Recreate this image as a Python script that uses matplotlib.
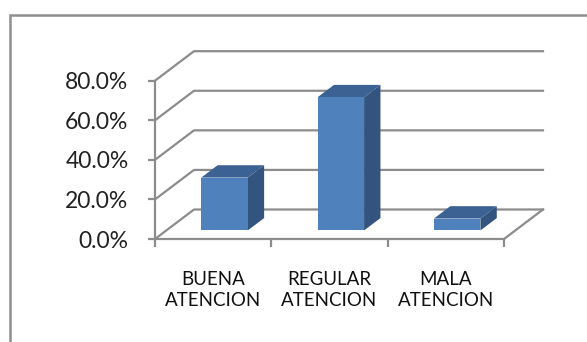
import matplotlib
matplotlib.use("Agg")
import matplotlib.pyplot as plt
from matplotlib.patches import Polygon, Rectangle
from matplotlib.ticker import PercentFormatter

categories = ["BUENA\nATENCION", "REGULAR\nATENCION", "MALA\nATENCION"]
values = [0.267, 0.673, 0.060]
y_ticks = [0.0, 0.2, 0.4, 0.6, 0.8]

plt.rcParams['font.family'] = ['Lato', 'DejaVu Sans']

W, H = 587, 342
fig = plt.figure(figsize=(W / 100, H / 100), dpi=100)
ax = fig.add_axes([155 / W, (H - 239) / H, 349 / W, 158.3 / H])
ax.set_xlim(0, len(categories))
ax.set_ylim(0, y_ticks[-1])

grid_col = '#8C8C8C'
# depth of the 3d box, in data units
DX = 39 / 349 * len(categories)
DY = 29.5 / 158.3 * y_ticks[-1]

# side wall + back wall gridlines
for v in y_ticks:
    ax.plot([0, DX, len(categories) + DX], [v, v + DY, v + DY],
            color=grid_col, lw=1.6, clip_on=False, zorder=1)
# right edge of the floor
ax.plot([len(categories), len(categories) + DX], [0, DY],
        color=grid_col, lw=1.6, clip_on=False, zorder=1)

# bars as little boxes
f0, f1 = 0.29, 0.71
for i, v in enumerate(values):
    x0, x1 = i + 0.3, i + 0.7
    front = [(x0 + f0 * DX, f0 * DY), (x1 + f0 * DX, f0 * DY),
             (x1 + f0 * DX, v + f0 * DY), (x0 + f0 * DX, v + f0 * DY)]
    side = [(x1 + f0 * DX, f0 * DY), (x1 + f1 * DX, f1 * DY),
            (x1 + f1 * DX, v + f1 * DY), (x1 + f0 * DX, v + f0 * DY)]
    top = [(x0 + f0 * DX, v + f0 * DY), (x1 + f0 * DX, v + f0 * DY),
           (x1 + f1 * DX, v + f1 * DY), (x0 + f1 * DX, v + f1 * DY)]
    ax.add_patch(Polygon(side, closed=True, fc='#33547F', ec='none', clip_on=False, zorder=3))
    ax.add_patch(Polygon(top, closed=True, fc='#3B6293', ec='none', clip_on=False, zorder=3))
    ax.add_patch(Polygon(front, closed=True, fc='#4F81BD', ec='none', clip_on=False, zorder=4))

# axes
for s in ['top', 'right']:
    ax.spines[s].set_visible(False)
for s in ['left', 'bottom']:
    ax.spines[s].set_color(grid_col)
    ax.spines[s].set_linewidth(1.6)
ax.patch.set_alpha(0)

ax.set_yticks(y_ticks)
ax.yaxis.set_major_formatter(PercentFormatter(xmax=1, decimals=1))
ax.tick_params(axis='y', length=5, width=1.6, color=grid_col, pad=14,
               labelsize=16.5, labelcolor='#222222')

ax.set_xticks(range(len(categories) + 1))
ax.set_xticklabels([])
ax.set_xticks([i + 0.5 for i in range(len(categories))], minor=True)
ax.set_xticklabels(categories, minor=True, fontsize=13.5, color='#111111',
                   linespacing=1.3)
ax.tick_params(axis='x', which='major', length=6, width=1.6, color=grid_col)
ax.tick_params(axis='x', which='minor', length=0, pad=23)

# chart area border
fig.add_artist(Rectangle((10 / W, -0.1), 1.2, (H - 15) / H + 0.1,
                         transform=fig.transFigure, fill=False,
                         ec='#8E8E8E', lw=1.8))

fig.savefig('out.png', dpi=100)
